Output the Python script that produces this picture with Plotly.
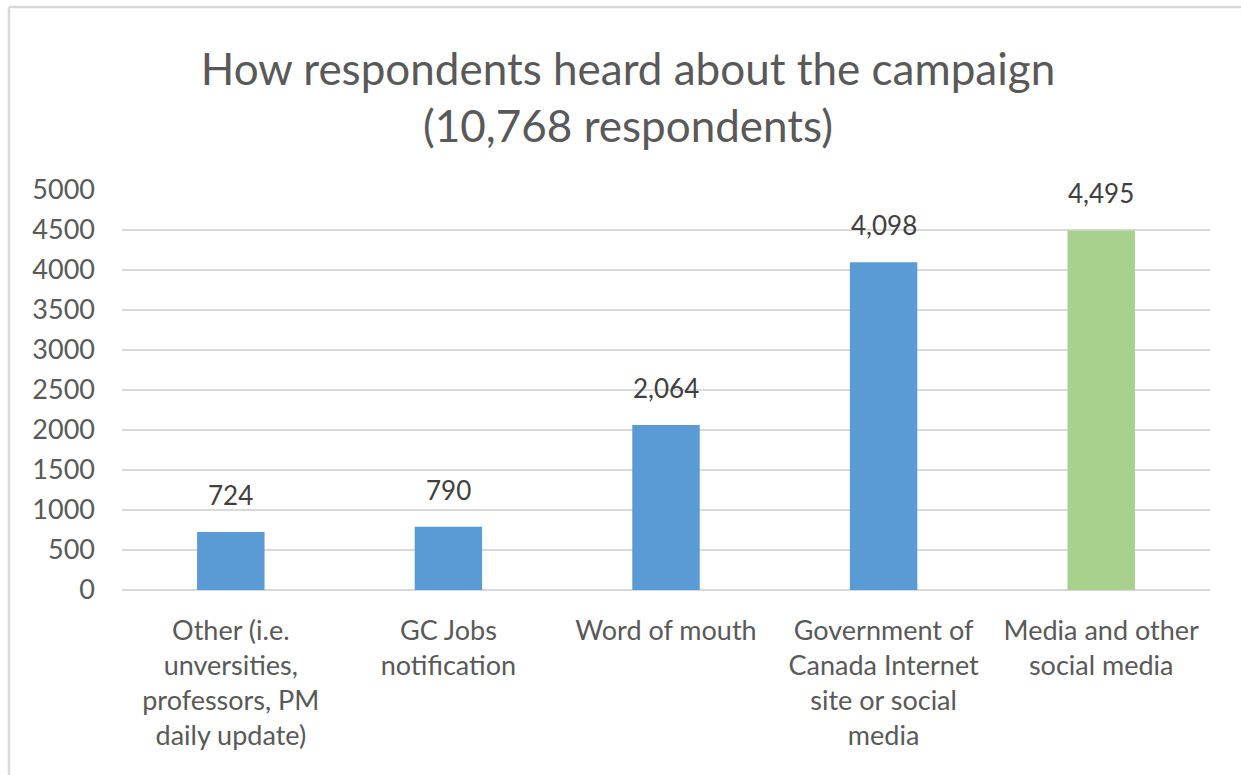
import plotly.graph_objects as go

# Survey data: how respondents heard about the campaign
categories = [
    "Other (i.e.<br>unversities,<br>professors, PM<br>daily update)",
    "GC Jobs<br>notification",
    "Word of mouth",
    "Government of<br>Canada Internet<br>site or social<br>media",
    "Media and other<br>social media",
]
respondents = [724, 790, 2064, 4098, 4495]
bar_colors = ["#5B9BD5", "#5B9BD5", "#5B9BD5", "#5B9BD5", "#A9D18E"]
y_ticks = [0, 500, 1000, 1500, 2000, 2500, 3000, 3500, 4000, 4500, 5000]

W, H = 1241, 775
L, R, T, B = 122, 31, 190, 185
FONT = "Lato, 'Open Sans', sans-serif"
TEXT = "#595959"

fig = go.Figure(
    go.Bar(
        x=categories,
        y=respondents,
        marker=dict(color=bar_colors, line=dict(width=0)),
        hoverinfo="x+y",
    )
)

# Value labels above each bar
for cat, val in zip(categories, respondents):
    fig.add_annotation(
        x=cat, y=val, text=f"{val:,}",
        showarrow=False, yanchor="bottom", yshift=19,
        font=dict(family=FONT, size=26, color="#404040"),
    )

pw = W - L - R
ph = H - T - B


def px_x(x):
    return (x - L) / pw


def px_y(y):
    return (H - B - y) / ph


fig.update_layout(
    width=W,
    height=H,
    margin=dict(l=L, r=R, t=T, b=B, pad=0),
    paper_bgcolor="white",
    plot_bgcolor="white",
    bargap=0.69,
    showlegend=False,
    font=dict(family=FONT, color=TEXT),
    title=dict(
        text="How respondents heard about the campaign<br>(10,768 respondents)",
        x=628 / W,
        xanchor="center",
        y=1 - 85 / H,
        yanchor="top",
        font=dict(family=FONT, size=44, color=TEXT),
    ),
    xaxis=dict(
        showgrid=False,
        showline=False,
        ticks="",
        tickfont=dict(family=FONT, size=27, color=TEXT),
        ticklabelstandoff=22,
    ),
    yaxis=dict(
        range=[0, 5000],
        tickvals=y_ticks,
        tickformat="d",
        showgrid=True,
        gridcolor="#D9D9D9",
        gridwidth=1.5,
        zeroline=True,
        zerolinecolor="#D9D9D9",
        zerolinewidth=1.5,
        showline=False,
        ticks="",
        tickfont=dict(family=FONT, size=27, color=TEXT),
        ticklabelstandoff=26,
    ),
    shapes=[
        # Chart frame: top and left edges
        dict(type="line", xref="paper", yref="paper",
             x0=px_x(9), x1=px_x(W + 5), y0=px_y(7), y1=px_y(7),
             line=dict(color="#D9D9D9", width=2.5)),
        dict(type="line", xref="paper", yref="paper",
             x0=px_x(9), x1=px_x(9), y0=px_y(7), y1=px_y(H + 5),
             line=dict(color="#D9D9D9", width=2.5)),
    ],
)

fig.write_html("out.html")
